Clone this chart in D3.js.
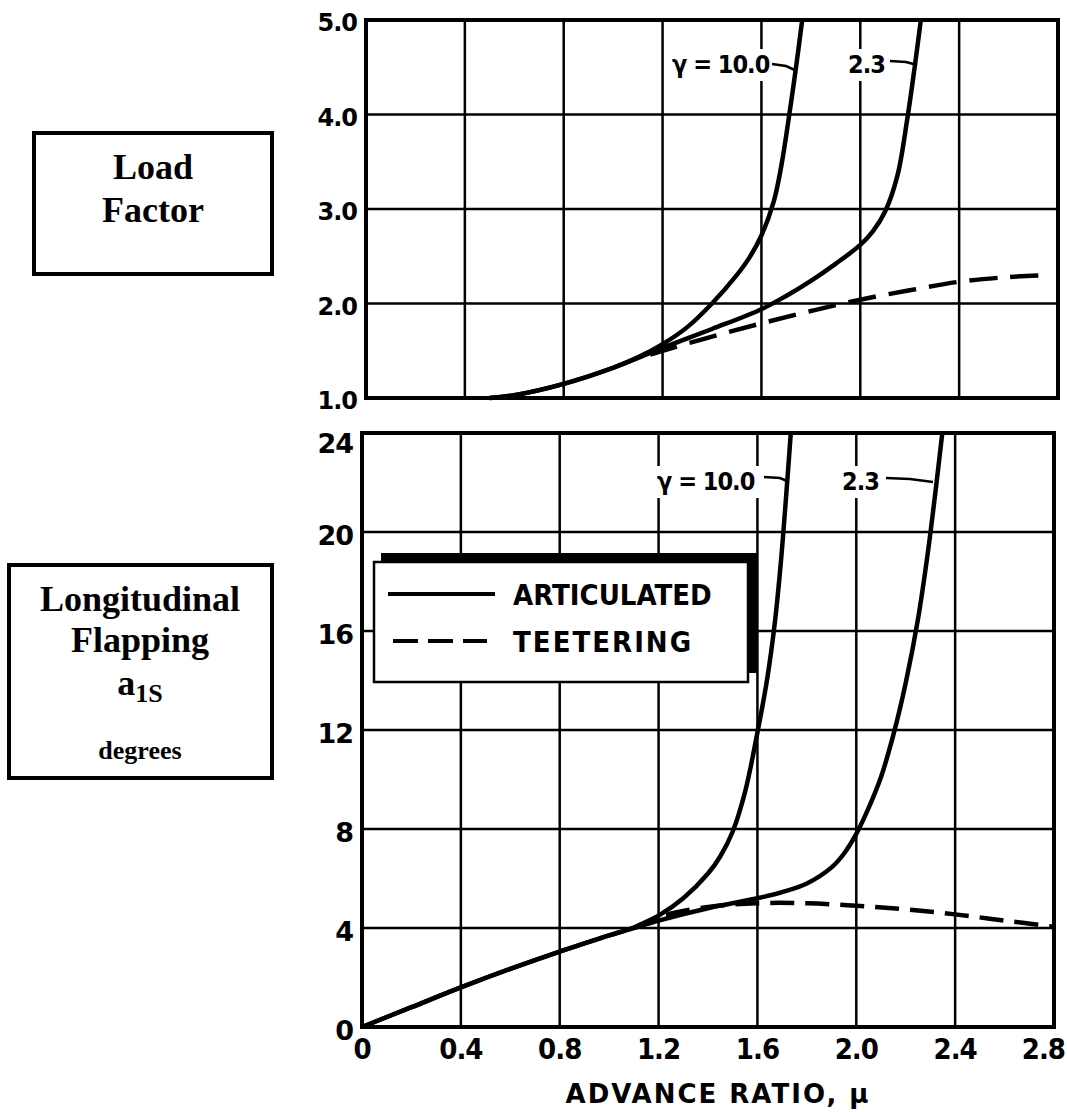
<!DOCTYPE html>
<meta charset="utf-8">
<style>
body { margin: 0; background: #fff; }
text { fill: #000; }
.tick { font-family: "DejaVu Sans", sans-serif; font-weight: bold; }
.cond { font-family: "DejaVu Sans Condensed", "DejaVu Sans", sans-serif; font-weight: bold; }
.serif { font-family: "Liberation Serif", "Times New Roman", serif; font-weight: bold; }
</style>
<body></body>
<script src="https://cdn.jsdelivr.net/npm/d3@7"></script>
<script>

// x axis (advance ratio)
var muTicks = [0, 0.4, 0.8, 1.2, 1.6, 2.0, 2.4, 2.8];
var muLabels = ["0", "0.4", "0.8", "1.2", "1.6", "2.0", "2.4", "2.8"];

// load factor panel
var loadTicks = [1, 2, 3, 4, 5];
var loadLabels = ["1.0", "2.0", "3.0", "4.0", "5.0"];
var loadMu10 = [0.5, 0.6, 0.8, 1.0, 1.1, 1.2, 1.3, 1.4, 1.5, 1.55, 1.6, 1.65, 1.68, 1.71, 1.74, 1.765];
var loadArt10 = [1.0, 1.03, 1.15, 1.32, 1.43, 1.57, 1.75, 2.0, 2.3, 2.48, 2.72, 3.08, 3.45, 3.95, 4.5, 5.0];
var loadMu23 = [0.5, 0.6, 0.8, 1.0, 1.2, 1.4, 1.6, 1.7, 1.8, 1.9, 2.0, 2.05, 2.1, 2.15, 2.19, 2.22, 2.245];
var loadArt23 = [1.0, 1.03, 1.15, 1.32, 1.53, 1.73, 1.94, 2.08, 2.24, 2.42, 2.62, 2.76, 2.97, 3.35, 3.95, 4.5, 5.0];
var loadMuT = [1.15, 1.2, 1.4, 1.6, 1.8, 2.0, 2.2, 2.4, 2.6, 2.75];
var loadTeet = [1.46, 1.5, 1.65, 1.79, 1.92, 2.04, 2.14, 2.23, 2.28, 2.30];

// longitudinal flapping panel
var flapTicks = [0, 4, 8, 12, 16, 20, 24];
var flapLabels = ["0", "4", "8", "12", "16", "20", "24"];
var flapMu10 = [0, 0.2, 0.4, 0.6, 0.8, 1.0, 1.1, 1.2, 1.3, 1.4, 1.45, 1.5, 1.55, 1.6, 1.64, 1.67, 1.695, 1.715, 1.735];
var flapArt10 = [0, 0.8, 1.6, 2.35, 3.05, 3.7, 4.02, 4.5, 5.2, 6.2, 6.9, 7.9, 9.5, 11.9, 14.1, 16.3, 18.8, 21.3, 24.0];
var flapMu23 = [0, 0.2, 0.4, 0.6, 0.8, 1.0, 1.1, 1.2, 1.4, 1.6, 1.7, 1.8, 1.9, 1.95, 2.0, 2.05, 2.1, 2.15, 2.2, 2.25, 2.29, 2.32, 2.348];
var flapArt23 = [0, 0.8, 1.6, 2.35, 3.05, 3.7, 4.0, 4.3, 4.8, 5.2, 5.45, 5.8, 6.45, 7.0, 7.8, 8.85, 10.1, 11.8, 13.9, 16.5, 19.2, 21.6, 24.0];
var flapMuT = [1.1, 1.2, 1.4, 1.6, 1.8, 2.0, 2.2, 2.4, 2.6, 2.8];
var flapTeet = [4.0, 4.45, 4.85, 5.0, 5.0, 4.9, 4.75, 4.55, 4.3, 4.05];

var svg = d3.select("body").append("svg")
    .attr("width", 1067)
    .attr("height", 1112);

function zip(xs, ys) {
  return xs.map(function(x, i) { return [x, ys[i]]; });
}

function panel(o) {
  var x = d3.scaleLinear().domain([0, 2.8]).range(o.xr);
  var y = d3.scaleLinear().domain(o.yd).range(o.yr);
  var g = svg.append("g");

  // grid
  g.selectAll(".vg").data(muTicks.slice(1, -1)).enter().append("line")
      .attr("x1", x).attr("x2", x)
      .attr("y1", o.yr[1]).attr("y2", o.yr[0])
      .attr("stroke", "#000").attr("stroke-width", 2.5);
  g.selectAll(".hg").data(o.ticks.slice(1, -1)).enter().append("line")
      .attr("x1", o.xr[0]).attr("x2", o.xr[1])
      .attr("y1", y).attr("y2", y)
      .attr("stroke", "#000").attr("stroke-width", 2.5);

  // y tick labels
  g.selectAll(".yl").data(o.ticks).enter().append("text")
      .attr("class", "tick")
      .attr("x", o.xr[0] - 9)
      .attr("y", function(d, i) { return y(d) + (i == o.ticks.length - 1 ? o.topShift : 3); })
      .attr("text-anchor", "end")
      .attr("dominant-baseline", "central")
      .style("font-size", o.fs + "px")
      .style("letter-spacing", "-1px")
      .text(function(d, i) { return o.labels[i]; });

  // gamma labels with white patches behind
  o.gl.forEach(function(l) {
    g.append("rect").attr("x", l.x - 4).attr("y", l.y - 24).attr("width", l.w).attr("height", 32).attr("fill", "#fff");
    g.append("text").attr("class", "cond")
        .attr("x", l.x).attr("y", l.y)
        .style("font-size", "25px")
        .style("letter-spacing", "-1px")
        .text(l.t);
    g.append("path")
        .attr("d", d3.line()(l.lead))
        .attr("fill", "none").attr("stroke", "#000").attr("stroke-width", 2.5);
  });

  var line = d3.line()
      .x(function(d) { return x(d[0]); })
      .y(function(d) { return y(d[1]); })
      .curve(d3.curveCatmullRom.alpha(0.5));

  o.solid.forEach(function(s) {
    g.append("path").datum(s)
        .attr("d", line)
        .attr("fill", "none").attr("stroke", "#000").attr("stroke-width", 4.5);
  });
  g.append("path").datum(o.dash)
      .attr("d", line)
      .attr("fill", "none").attr("stroke", "#000").attr("stroke-width", 4.5)
      .attr("stroke-dasharray", o.dashArr);

  // frame
  g.append("rect")
      .attr("x", o.xr[0]).attr("y", o.yr[1])
      .attr("width", o.xr[1] - o.xr[0]).attr("height", o.yr[0] - o.yr[1])
      .attr("fill", "none").attr("stroke", "#000").attr("stroke-width", 4);

  return { x: x, y: y, g: g };
}

panel({
  xr: [366, 1058], yr: [398, 20], yd: [1, 5],
  ticks: loadTicks, labels: loadLabels, fs: 24, topShift: 3,
  solid: [zip(loadMu10, loadArt10), zip(loadMu23, loadArt23)],
  dash: zip(loadMuT, loadTeet), dashArr: "28,13",
  gl: [
    { t: "γ = 10.0", x: 672, y: 73, w: 104, lead: [[772, 64], [786, 66], [797, 71]] },
    { t: "2.3", x: 848, y: 73, w: 44, lead: [[890, 61], [906, 62], [917, 65]] }
  ]
});

var bottom = panel({
  xr: [362, 1054], yr: [1027, 433], yd: [0, 24],
  ticks: flapTicks, labels: flapLabels, fs: 27, topShift: 10,
  solid: [zip(flapMu10, flapArt10), zip(flapMu23, flapArt23)],
  dash: zip(flapMuT, flapTeet), dashArr: "24,11",
  gl: [
    { t: "γ = 10.0", x: 657, y: 490, w: 106, lead: [[764, 477], [780, 478], [787, 481]] },
    { t: "2.3", x: 842, y: 490, w: 44, lead: [[886, 478], [910, 479], [933, 482]] }
  ]
});

// legend
var lg = svg.append("g");
lg.append("rect").attr("x", 381).attr("y", 553).attr("width", 376).attr("height", 120).attr("fill", "#000");
lg.append("rect").attr("x", 374).attr("y", 562).attr("width", 374).attr("height", 120)
    .attr("fill", "#fff").attr("stroke", "#000").attr("stroke-width", 2.5);
lg.append("line").attr("x1", 388).attr("x2", 495).attr("y1", 594).attr("y2", 594)
    .attr("stroke", "#000").attr("stroke-width", 4);
lg.append("line").attr("x1", 393).attr("x2", 487).attr("y1", 641).attr("y2", 641)
    .attr("stroke", "#000").attr("stroke-width", 4).attr("stroke-dasharray", "25,10");
lg.append("text").attr("class", "cond").attr("x", 513).attr("y", 605)
    .style("font-size", "29px").text("ARTICULATED");
lg.append("text").attr("class", "cond").attr("x", 513).attr("y", 652)
    .style("font-size", "29px").style("letter-spacing", "2px").text("TEETERING");

// x tick labels
svg.selectAll(".xl").data(muTicks).enter().append("text")
    .attr("class", "cond")
    .attr("x", function(d, i) { return i == muTicks.length - 1 ? 1065 : bottom.x(d); })
    .attr("y", 1059)
    .attr("text-anchor", function(d, i) { return i == muTicks.length - 1 ? "end" : "middle"; })
    .style("font-size", "29px")
    .style("letter-spacing", "-1px")
    .text(function(d, i) { return muLabels[i]; });

svg.append("text").attr("class", "tick")
    .attr("x", 718).attr("y", 1103)
    .attr("text-anchor", "middle")
    .style("font-size", "26px")
    .style("letter-spacing", "2px")
    .text("ADVANCE RATIO, μ");

// side boxes
svg.append("rect").attr("x", 34).attr("y", 133).attr("width", 238).attr("height", 141)
    .attr("fill", "none").attr("stroke", "#000").attr("stroke-width", 4);
svg.append("text").attr("class", "serif").attr("x", 153).attr("y", 179)
    .attr("text-anchor", "middle").style("font-size", "36px").text("Load");
svg.append("text").attr("class", "serif").attr("x", 153).attr("y", 222)
    .attr("text-anchor", "middle").style("font-size", "36px").text("Factor");

svg.append("rect").attr("x", 9).attr("y", 565).attr("width", 263).attr("height", 213)
    .attr("fill", "none").attr("stroke", "#000").attr("stroke-width", 4);
svg.append("text").attr("class", "serif").attr("x", 140).attr("y", 611)
    .attr("text-anchor", "middle").style("font-size", "36px").text("Longitudinal");
svg.append("text").attr("class", "serif").attr("x", 140).attr("y", 652)
    .attr("text-anchor", "middle").style("font-size", "36px").text("Flapping");
var a1s = svg.append("text").attr("class", "serif").attr("x", 140).attr("y", 695)
    .attr("text-anchor", "middle").style("font-size", "36px");
a1s.append("tspan").text("a");
a1s.append("tspan").attr("dy", 7).style("font-size", "26px").text("1S");
svg.append("text").attr("class", "serif").attr("x", 140).attr("y", 759)
    .attr("text-anchor", "middle").style("font-size", "26px").text("degrees");

</script>
